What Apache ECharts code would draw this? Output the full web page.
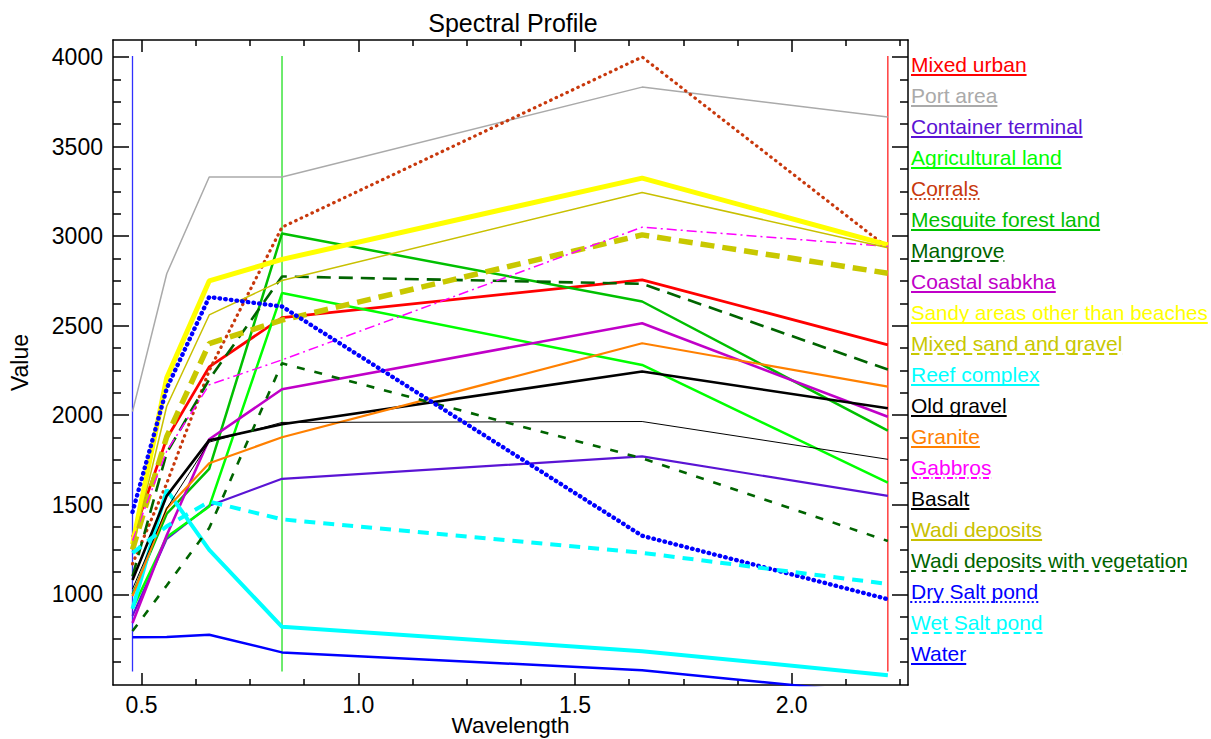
<!DOCTYPE html>
<html>
<head>
<meta charset="utf-8">
<script src="https://cdn.jsdelivr.net/npm/echarts@6/dist/echarts.min.js"></script>
<style>
html,body{margin:0;padding:0;background:#fff;}
#chart{width:1211px;height:739px;}
</style>
</head>
<body>
<div id="chart"></div>
<script>
// ---------- DATA ----------
const wavelengths = [0.479, 0.558, 0.656, 0.824, 1.655, 2.222];

const seriesNames = [
  'Mixed urban', 'Port area', 'Container terminal', 'Agricultural land', 'Corrals',
  'Mesquite forest land', 'Mangrove', 'Coastal sabkha', 'Sandy areas other than beaches',
  'Mixed sand and gravel', 'Reef complex', 'Old gravel', 'Granite', 'Gabbros', 'Basalt',
  'Wadi deposits', 'Wadi deposits with vegetation', 'Dry Salt pond', 'Wet Salt pond', 'Water'
];

const mixedUrban        = [1320, 1870, 2270, 2545, 2756, 2393];
const portArea          = [2020, 2790, 3330, 3330, 3832, 3665];
const containerTerminal = [880, 1310, 1495, 1645, 1770, 1550];
const agriculturalLand  = [920, 1320, 1490, 2682, 2281, 1624];
const corrals           = [1170, 1620, 2250, 3050, 4000, 2935];
const mesquiteForest    = [1000, 1450, 1700, 3015, 2635, 1914];
const mangrove          = [1100, 1790, 2200, 2775, 2734, 2255];
const coastalSabkha     = [840, 1330, 1866, 2145, 2514, 1992];
const sandyAreas        = [1280, 2210, 2750, 2870, 3324, 2951];
const mixedSandGravel   = [1250, 1880, 2400, 2531, 3007, 2793];
const reefComplex       = [920, 1583, 1248, 819, 683, 549];
const oldGravel         = [1080, 1550, 1861, 1950, 2244, 2039];
const granite           = [990, 1480, 1732, 1877, 2402, 2160];
const gabbros           = [1300, 1800, 2170, 2309, 3050, 2942];
const basalt            = [1030, 1480, 1850, 1960, 1965, 1754];
const wadiDeposits      = [1250, 2050, 2560, 2752, 3244, 2935];
const wadiVegetation    = [795, 1050, 1370, 2290, 1760, 1298];
const drySaltPond       = [1460, 2150, 2660, 2607, 1327, 973];
const wetSaltPond       = [1230, 1380, 1518, 1419, 1232, 1058];
const water             = [760, 762, 775, 676, 577, 441];

const seriesValues = [mixedUrban, portArea, containerTerminal, agriculturalLand, corrals,
  mesquiteForest, mangrove, coastalSabkha, sandyAreas, mixedSandGravel, reefComplex,
  oldGravel, granite, gabbros, basalt, wadiDeposits, wadiVegetation, drySaltPond,
  wetSaltPond, water];

// band marker lines (wavelengths) and their vertical extent
const bandMarkers = [0.479, 0.824, 2.222];
const bandMarkerRange = [570, 4005];

// tick values
const xMajorTicks = [0.5, 1.0, 1.5, 2.0];
const xMinorTicks = [0.625, 0.75, 0.875, 1.125, 1.25, 1.375, 1.625, 1.75, 1.875, 2.125, 2.25];
const yMajorTicks = [1000, 1500, 2000, 2500, 3000, 3500, 4000];
const yMinorTicks = [625, 750, 875, 1125, 1250, 1375, 1625, 1750, 1875, 2125, 2250, 2375,
  2625, 2750, 2875, 3125, 3250, 3375, 3625, 3750, 3875];

// ---------- STYLES ----------
const styles = [
  {color: '#ff0000', width: 2.8, type: 'solid'},
  {color: '#aaaaaa', width: 1.5, type: 'solid'},
  {color: '#5a14d4', width: 2.2, type: 'solid'},
  {color: '#00ff00', width: 2.5, type: 'solid'},
  {color: '#c8380c', width: 3.2, type: [0.5, 5.5], cap: 'round'},
  {color: '#00c000', width: 2.5, type: 'solid'},
  {color: '#006400', width: 2.6, type: [14, 8]},
  {color: '#c000c8', width: 2.6, type: 'solid'},
  {color: '#ffff00', width: 5, type: 'solid'},
  {color: '#c8c800', width: 5.5, type: [14, 8]},
  {color: '#00ffff', width: 4, type: 'solid'},
  {color: '#000000', width: 2.6, type: 'solid'},
  {color: '#ff8000', width: 2.2, type: 'solid'},
  {color: '#ff00ff', width: 1.5, type: [10, 4, 2, 4]},
  {color: '#000000', width: 1, type: 'solid'},
  {color: '#c8c000', width: 1.5, type: 'solid'},
  {color: '#006400', width: 2.6, type: [8, 10]},
  {color: '#0000ff', width: 4.4, type: [0.5, 5.2], cap: 'round'},
  {color: '#00ffff', width: 4, type: [11, 8]},
  {color: '#0000ff', width: 2.5, type: 'solid'}
];
const bandColors = ['#3030ff', '#20e020', '#ff2020'];

const FONT = '"Liberation Sans", Arial, Helvetica, sans-serif';
const X_MIN = 0.434, X_MAX = 2.2685, Y_MIN = 494, Y_MAX = 4095;

const chart = echarts.init(document.getElementById('chart'), null, {renderer: 'svg'});

function xAxisDef(pos, ticks, len, showLine, labels) {
  return {
    type: 'value', position: pos, min: X_MIN, max: X_MAX,
    axisLine: {show: showLine, onZero: false, lineStyle: {color: '#000', width: 1.5}},
    axisTick: {show: true, inside: true, length: len, customValues: ticks, lineStyle: {color: '#000', width: 1.5}},
    axisLabel: labels ? {show: true, customValues: ticks, formatter: v => v.toFixed(1), fontSize: 23,
      color: '#000', fontFamily: FONT, margin: 8} : {show: false},
    splitLine: {show: false},
    name: labels ? 'Wavelength' : '', nameLocation: 'middle', nameGap: 29, nameMoveOverlap: false,
    nameTextStyle: {fontSize: 22.5, lineHeight: 23, color: '#000', fontFamily: FONT}
  };
}
function yAxisDef(pos, ticks, len, showLine, labels) {
  return {
    type: 'value', position: pos, min: Y_MIN, max: Y_MAX,
    axisLine: {show: showLine, onZero: false, lineStyle: {color: '#000', width: 1.5}},
    axisTick: {show: true, inside: true, length: len, customValues: ticks, lineStyle: {color: '#000', width: 1.5}},
    axisLabel: labels ? {show: true, customValues: ticks, formatter: v => String(v), fontSize: 23, color: '#000',
      fontFamily: FONT, margin: 10} : {show: false},
    splitLine: {show: false},
    name: labels ? 'Value' : '', nameLocation: 'middle', nameGap: 82, nameRotate: 90, nameMoveOverlap: false,
    nameTextStyle: {fontSize: 23, color: '#000', fontFamily: FONT}
  };
}

const series = [];
bandMarkers.forEach((w, i) => {
  series.push({
    type: 'line', name: 'band' + i, silent: true, symbol: 'none',
    data: [[w, bandMarkerRange[0]], [w, bandMarkerRange[1]]],
    lineStyle: {color: bandColors[i], width: 1.3}, z: 1
  });
});
seriesNames.forEach((name, i) => {
  series.push({
    type: 'line', name: name, symbol: 'none', clip: true,
    data: wavelengths.map((w, k) => [w, seriesValues[i][k]]),
    lineStyle: {color: styles[i].color, width: styles[i].width, type: styles[i].type,
      cap: styles[i].cap || 'butt'},
    itemStyle: {color: styles[i].color}, z: 2
  });
});

// legend drawn as underlined coloured text
const ctx = document.createElement('canvas').getContext('2d');
const LEG_X = 911;
const graphics = [];
seriesNames.forEach((name, i) => {
  const cy = 64 + 31 * i;
  let fs = 21;
  ctx.font = fs + 'px ' + FONT;
  let w = ctx.measureText(name).width;
  if (LEG_X + w > 1208) { fs = fs * (1208 - LEG_X) / w; ctx.font = fs + 'px ' + FONT; w = ctx.measureText(name).width; }
  const st = styles[i];
  graphics.push({
    type: 'text', x: LEG_X, y: cy,
    style: {text: name, fill: st.color, fontSize: fs, fontFamily: FONT, verticalAlign: 'middle', align: 'left'}
  });
  graphics.push({
    type: 'line', shape: {x1: LEG_X, y1: cy + 11, x2: LEG_X + w, y2: cy + 11},
    style: {stroke: st.color, lineWidth: 2, lineCap: st.cap || 'butt',
      lineDash: Array.isArray(st.type) ? (st.cap ? [0.5, 4] : st.type.map(v => Math.max(1, v * 0.6))) : null}
  });
});

chart.setOption({
  backgroundColor: '#fff',
  animation: false,
  title: {text: 'Spectral Profile', left: 508, top: 5, textAlign: 'center',
    textStyle: {fontSize: 25, fontWeight: 'normal', color: '#000', fontFamily: FONT}},
  grid: {left: 113, top: 40, width: 795, height: 645, containLabel: false, outerBoundsMode: 'none'},
  xAxis: [
    xAxisDef('bottom', xMajorTicks, 12, true, true),
    xAxisDef('top', xMajorTicks, 12, true, false),
    xAxisDef('bottom', xMinorTicks, 6, false, false),
    xAxisDef('top', xMinorTicks, 6, false, false)
  ],
  yAxis: [
    yAxisDef('left', yMajorTicks, 16, true, true),
    yAxisDef('right', yMajorTicks, 16, true, false),
    yAxisDef('left', yMinorTicks, 8, false, false),
    yAxisDef('right', yMinorTicks, 8, false, false)
  ],
  series: series,
  graphic: graphics
});
</script>
</body>
</html>
